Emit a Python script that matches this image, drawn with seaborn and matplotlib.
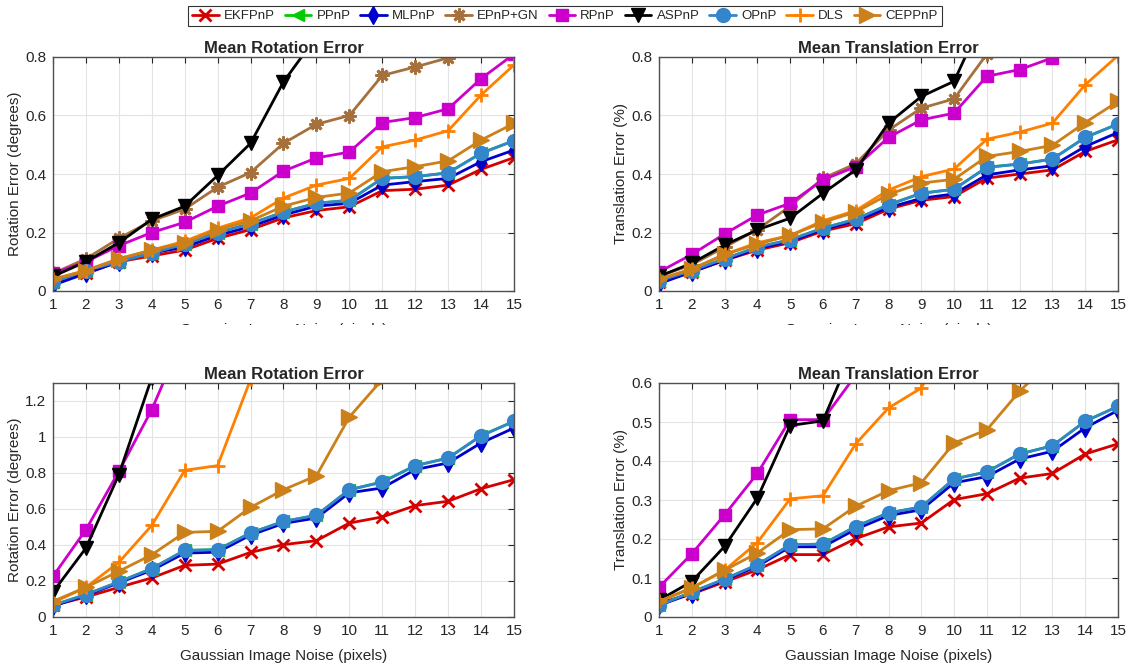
import numpy as np
import pandas as pd
import seaborn as sns
import matplotlib
matplotlib.use("Agg")
import matplotlib.pyplot as plt
from matplotlib.ticker import FormatStrFormatter
from matplotlib.patches import Rectangle

# Data (values above the y-limit are clipped in the original)
noise = list(range(1, 16))
methods = ["EKFPnP", "PPnP", "MLPnP", "EPnP+GN", "RPnP", "ASPnP", "OPnP", "DLS", "CEPPnP"]

# top-left: mean rotation error (degrees)
rot_a = {
    "EKFPnP":  [0.03, 0.06, 0.10, 0.12, 0.14, 0.18, 0.21, 0.25, 0.275, 0.288, 0.343, 0.348, 0.362, 0.416, 0.456],
    "PPnP":    [0.03, 0.07, 0.10, 0.13, 0.16, 0.20, 0.23, 0.27, 0.30, 0.31, 0.385, 0.391, 0.404, 0.471, 0.514],
    "MLPnP":   [0.02, 0.06, 0.10, 0.13, 0.15, 0.19, 0.22, 0.26, 0.29, 0.30, 0.362, 0.374, 0.385, 0.442, 0.482],
    "EPnP+GN": [0.06, 0.11, 0.18, 0.24, 0.28, 0.355, 0.405, 0.505, 0.57, 0.60, 0.737, 0.766, 0.797, 0.88, 0.95],
    "RPnP":    [0.06, 0.10, 0.155, 0.20, 0.235, 0.29, 0.335, 0.41, 0.455, 0.475, 0.576, 0.593, 0.623, 0.726, 0.81],
    "ASPnP":   [0.05, 0.10, 0.165, 0.245, 0.29, 0.395, 0.505, 0.715, 0.87, 1.0, 1.1, 1.2, 1.3, 1.45, 1.6],
    "OPnP":    [0.03, 0.07, 0.10, 0.13, 0.16, 0.20, 0.23, 0.27, 0.30, 0.31, 0.385, 0.391, 0.404, 0.471, 0.514],
    "DLS":     [0.04, 0.07, 0.11, 0.14, 0.17, 0.215, 0.25, 0.318, 0.362, 0.385, 0.493, 0.516, 0.548, 0.670, 0.773],
    "CEPPnP":  [0.04, 0.07, 0.11, 0.14, 0.165, 0.21, 0.24, 0.29, 0.32, 0.335, 0.408, 0.425, 0.445, 0.516, 0.573],
}

# top-right: mean translation error (%)
trans_a = {
    "EKFPnP":  [0.03, 0.065, 0.105, 0.14, 0.165, 0.205, 0.23, 0.28, 0.31, 0.323, 0.386, 0.40, 0.414, 0.477, 0.517],
    "PPnP":    [0.035, 0.07, 0.11, 0.15, 0.175, 0.215, 0.245, 0.295, 0.334, 0.348, 0.423, 0.434, 0.451, 0.525, 0.571],
    "MLPnP":   [0.025, 0.065, 0.105, 0.145, 0.17, 0.21, 0.24, 0.285, 0.317, 0.332, 0.397, 0.414, 0.428, 0.494, 0.542],
    "EPnP+GN": [0.05, 0.09, 0.15, 0.21, 0.29, 0.385, 0.435, 0.55, 0.625, 0.657, 0.81, 0.90, 0.98, 1.05, 1.10],
    "RPnP":    [0.065, 0.125, 0.195, 0.26, 0.30, 0.38, 0.425, 0.525, 0.585, 0.608, 0.734, 0.757, 0.797, 0.90, 1.00],
    "ASPnP":   [0.05, 0.095, 0.157, 0.209, 0.249, 0.334, 0.414, 0.574, 0.665, 0.717, 0.96, 1.10, 1.20, 1.30, 1.40],
    "OPnP":    [0.035, 0.07, 0.11, 0.15, 0.175, 0.215, 0.245, 0.295, 0.334, 0.348, 0.423, 0.434, 0.451, 0.525, 0.571],
    "DLS":     [0.04, 0.075, 0.125, 0.165, 0.19, 0.24, 0.275, 0.345, 0.391, 0.417, 0.519, 0.543, 0.574, 0.705, 0.805],
    "CEPPnP":  [0.04, 0.075, 0.125, 0.16, 0.19, 0.235, 0.27, 0.33, 0.369, 0.382, 0.46, 0.477, 0.498, 0.576, 0.648],
}

# bottom-left: mean rotation error (degrees)
rot_b = {
    "EKFPnP":  [0.065, 0.111, 0.165, 0.217, 0.287, 0.294, 0.359, 0.402, 0.424, 0.522, 0.556, 0.619, 0.643, 0.713, 0.763],
    "PPnP":    [0.065, 0.125, 0.195, 0.269, 0.370, 0.374, 0.467, 0.531, 0.565, 0.707, 0.75, 0.841, 0.883, 1.007, 1.087],
    "MLPnP":   [0.06, 0.12, 0.19, 0.26, 0.355, 0.36, 0.455, 0.52, 0.55, 0.69, 0.717, 0.819, 0.856, 0.967, 1.05],
    "EPnP+GN": [np.nan] * 15,
    "RPnP":    [0.226, 0.485, 0.809, 1.152, 1.58, 1.9, 2.2, 2.5, 2.8, 3.1, 3.4, 3.7, 4.0, 4.3, 4.6],
    "ASPnP":   [0.139, 0.383, 0.791, 1.33, 1.7, 2.0, 2.3, 2.6, 2.9, 3.2, 3.5, 3.8, 4.1, 4.4, 4.7],
    "OPnP":    [0.065, 0.125, 0.195, 0.269, 0.370, 0.374, 0.467, 0.531, 0.565, 0.707, 0.75, 0.841, 0.883, 1.007, 1.087],
    "DLS":     [0.08, 0.165, 0.304, 0.509, 0.815, 0.841, 1.32, 1.6, 1.8, 2.0, 2.2, 2.4, 2.6, 2.8, 3.0],
    "CEPPnP":  [0.087, 0.165, 0.254, 0.346, 0.470, 0.476, 0.609, 0.707, 0.785, 1.111, 1.32, 1.5, 1.6, 1.7, 1.8],
}

# bottom-right: mean translation error (%)
trans_b = {
    "EKFPnP":  [0.036, 0.059, 0.090, 0.121, 0.160, 0.160, 0.201, 0.231, 0.241, 0.301, 0.316, 0.356, 0.368, 0.418, 0.444],
    "PPnP":    [0.030, 0.064, 0.097, 0.134, 0.185, 0.187, 0.232, 0.267, 0.282, 0.354, 0.372, 0.418, 0.439, 0.502, 0.540],
    "MLPnP":   [0.03, 0.06, 0.095, 0.13, 0.18, 0.18, 0.225, 0.26, 0.275, 0.344, 0.36, 0.405, 0.425, 0.485, 0.53],
    "EPnP+GN": [np.nan] * 15,
    "RPnP":    [0.076, 0.162, 0.262, 0.368, 0.506, 0.506, 0.62, 0.75, 0.85, 0.95, 1.05, 1.15, 1.25, 1.35, 1.45],
    "ASPnP":   [0.043, 0.091, 0.181, 0.305, 0.491, 0.503, 0.70, 0.85, 0.95, 1.05, 1.15, 1.25, 1.35, 1.45, 1.55],
    "OPnP":    [0.030, 0.064, 0.097, 0.134, 0.185, 0.187, 0.232, 0.267, 0.282, 0.354, 0.372, 0.418, 0.439, 0.502, 0.540],
    "DLS":     [0.04, 0.075, 0.12, 0.191, 0.303, 0.311, 0.444, 0.536, 0.587, 0.75, 0.85, 0.95, 1.05, 1.15, 1.25],
    "CEPPnP":  [0.040, 0.074, 0.120, 0.164, 0.224, 0.226, 0.284, 0.324, 0.344, 0.446, 0.480, 0.579, 0.66, 0.75, 0.85],
}

colors = {
    "EKFPnP": "#d40000", "PPnP": "#00cc00", "MLPnP": "#0000cc", "EPnP+GN": "#a6703c",
    "RPnP": "#cc00cc", "ASPnP": "#000000", "OPnP": "#3385cc", "DLS": "#ff8000", "CEPPnP": "#cc8019",
}
markers = {
    "EKFPnP": "x", "PPnP": "<", "MLPnP": "d", "EPnP+GN": (8, 2, 0), "RPnP": "s",
    "ASPnP": "v", "OPnP": "o", "DLS": "+", "CEPPnP": ">",
}
msizes = {
    "EKFPnP": 8, "PPnP": 9, "MLPnP": 9, "EPnP+GN": 10, "RPnP": 8,
    "ASPnP": 10, "OPnP": 10, "DLS": 10, "CEPPnP": 11,
}
line_markers = {"EKFPnP", "EPnP+GN", "DLS"}

sns.set_style("whitegrid", {
    "grid.color": "#e3e3e3", "axes.edgecolor": "#505050",
    "xtick.direction": "in", "ytick.direction": "in",
})
plt.rcParams["font.family"] = ["Liberation Sans", "DejaVu Sans"]
plt.rcParams["axes.linewidth"] = 1.0

fig = plt.figure(figsize=(11.3, 6.67), dpi=100)
W, H = 1130, 667


def make_ax(left, right, top, bottom):
    return fig.add_axes([left / W, 1 - bottom / H, (right - left) / W, (bottom - top) / H])


panels = [
    (make_ax(53, 514, 57, 291), rot_a, "Mean Rotation Error", "Rotation Error (degrees)", 0.8, 0.2),
    (make_ax(659, 1118, 57, 291), trans_a, "Mean Translation Error", "Translation Error (%)", 0.8, 0.2),
    (make_ax(53, 514, 383, 617), rot_b, "Mean Rotation Error", "Rotation Error (degrees)", 1.3, 0.2),
    (make_ax(659, 1118, 383, 617), trans_b, "Mean Translation Error", "Translation Error (%)", 0.6, 0.1),
]

for ax, data, title, ylabel, ymax, ystep in panels:
    for m in methods:
        sns.lineplot(x=noise, y=data[m], ax=ax, color=colors[m], marker=markers[m],
                     markersize=msizes[m], markeredgecolor=colors[m],
                     markeredgewidth=2 if m in line_markers else 1,
                     linewidth=2, label=m, legend=False)
    ax.set_xlim(1, 15)
    ax.set_ylim(0, ymax)
    ax.set_xticks(noise)
    ax.set_yticks(np.arange(0, ymax + 1e-9, ystep))
    ax.yaxis.set_major_formatter(FormatStrFormatter("%g"))
    ax.tick_params(labelsize=11, colors="#262626", length=4, top=True, right=True,
                   labeltop=False, labelright=False, pad=5)
    ax.set_title(title, fontsize=12, fontweight="bold", pad=3)
    ax.set_ylabel(ylabel, fontsize=11, color="#262626", labelpad=2)
    ax.set_xlabel("Gaussian Image Noise (pixels)", fontsize=11, color="#262626", labelpad=8)
    for s in ax.spines.values():
        s.set_color("#505050")

# the upper row's x labels are partly hidden behind the lower row in the original
fig.patches.append(Rectangle((0, 1 - 345 / H), 1, 20 / H, transform=fig.transFigure,
                             facecolor="white", edgecolor="none", zorder=10))

handles, labels = panels[0][0].get_legend_handles_labels()
leg = fig.legend(handles, labels, loc="upper center", bbox_to_anchor=(0.5, 0.995), ncol=9,
                 fontsize=9.5, frameon=True, fancybox=False, edgecolor="#000000",
                 handlelength=2.0, handletextpad=0.4, columnspacing=0.75,
                 borderpad=0.3, borderaxespad=0.2)
leg.get_frame().set_linewidth(0.8)

fig.savefig("out.png", dpi=100)
